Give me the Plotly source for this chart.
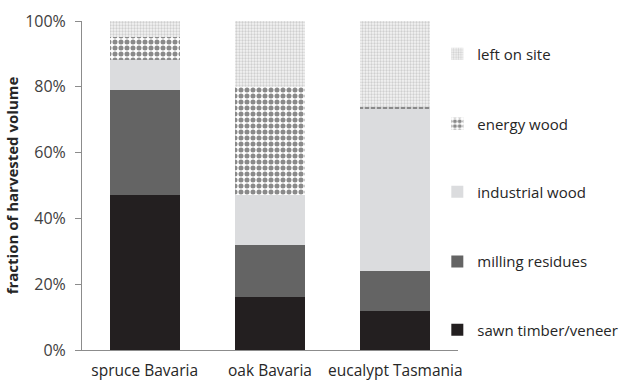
import plotly.graph_objects as go

categories = ["spruce Bavaria", "oak Bavaria", "eucalypt Tasmania"]
sawn_timber = [47, 16, 12]
milling_residues = [32, 16, 12]
industrial_wood = [9, 15, 49.5]
energy_wood = [7, 33, 0.5]
left_on_site = [5, 20, 26]
y_ticks = [0, 20, 40, 60, 80, 100]
y_tick_labels = ["0%", "20%", "40%", "60%", "80%", "100%"]

series = [
    ("sawn timber/veneer", sawn_timber, dict(color="#231f20")),
    ("milling residues", milling_residues, dict(color="#646464")),
    ("industrial wood", industrial_wood, dict(color="#dbdcde")),
    ("energy wood", energy_wood,
     dict(color="white", pattern=dict(shape=".", fgcolor="#8a8a8a", bgcolor="white",
                                      size=6, solidity=0.55, fillmode="replace"))),
    ("left on site", left_on_site,
     dict(color="white", pattern=dict(shape=".", fgcolor="#cfcfcf", bgcolor="#f4f4f4",
                                      size=3, solidity=0.45, fillmode="replace"))),
]

# one legend per series so each entry sits level with its own band of the axis
legend_y = [0.061, 0.268, 0.480, 0.687, 0.900]

fig = go.Figure()
for i, (name, vals, marker) in enumerate(series):
    fig.add_trace(go.Bar(
        x=categories, y=vals, name=name, marker=dict(line=dict(width=0), **marker),
        legend=f"legend{i + 2}",
    ))

font_family = "Open Sans"
legends = {}
for i, ly in enumerate(legend_y):
    legends[f"legend{i + 2}"] = dict(
        x=0.945, xanchor="left", y=ly, yanchor="middle",
        font=dict(size=15, color="#262626"), itemwidth=30,
        bgcolor="rgba(0,0,0,0)", borderwidth=0,
    )

fig.update_layout(
    barmode="stack",
    bargap=0.44,
    width=643, height=383,
    margin=dict(l=82, r=185, t=21, b=33),
    plot_bgcolor="white", paper_bgcolor="white",
    font=dict(family=font_family, size=16, color="#404040"),
    xaxis=dict(
        showline=True, linecolor="#8c8c8c", linewidth=1,
        ticks="", tickfont=dict(size=15.5, color="#262626"),
        ticklabelstandoff=6, automargin=False,
    ),
    yaxis=dict(
        range=[0, 100], tickvals=y_ticks, ticktext=y_tick_labels,
        showline=True, linecolor="#8c8c8c", linewidth=1,
        ticks="outside", ticklen=6, tickcolor="#8c8c8c",
        showgrid=False, zeroline=False,
        tickfont=dict(size=16, color="#404040"),
        ticklabelstandoff=6, automargin=False,
        title=dict(text="<b>fraction of harvested volume</b>",
                   font=dict(size=15, color="#262626"), standoff=2),
    ),
    **legends,
)

fig.write_html("out.html")
